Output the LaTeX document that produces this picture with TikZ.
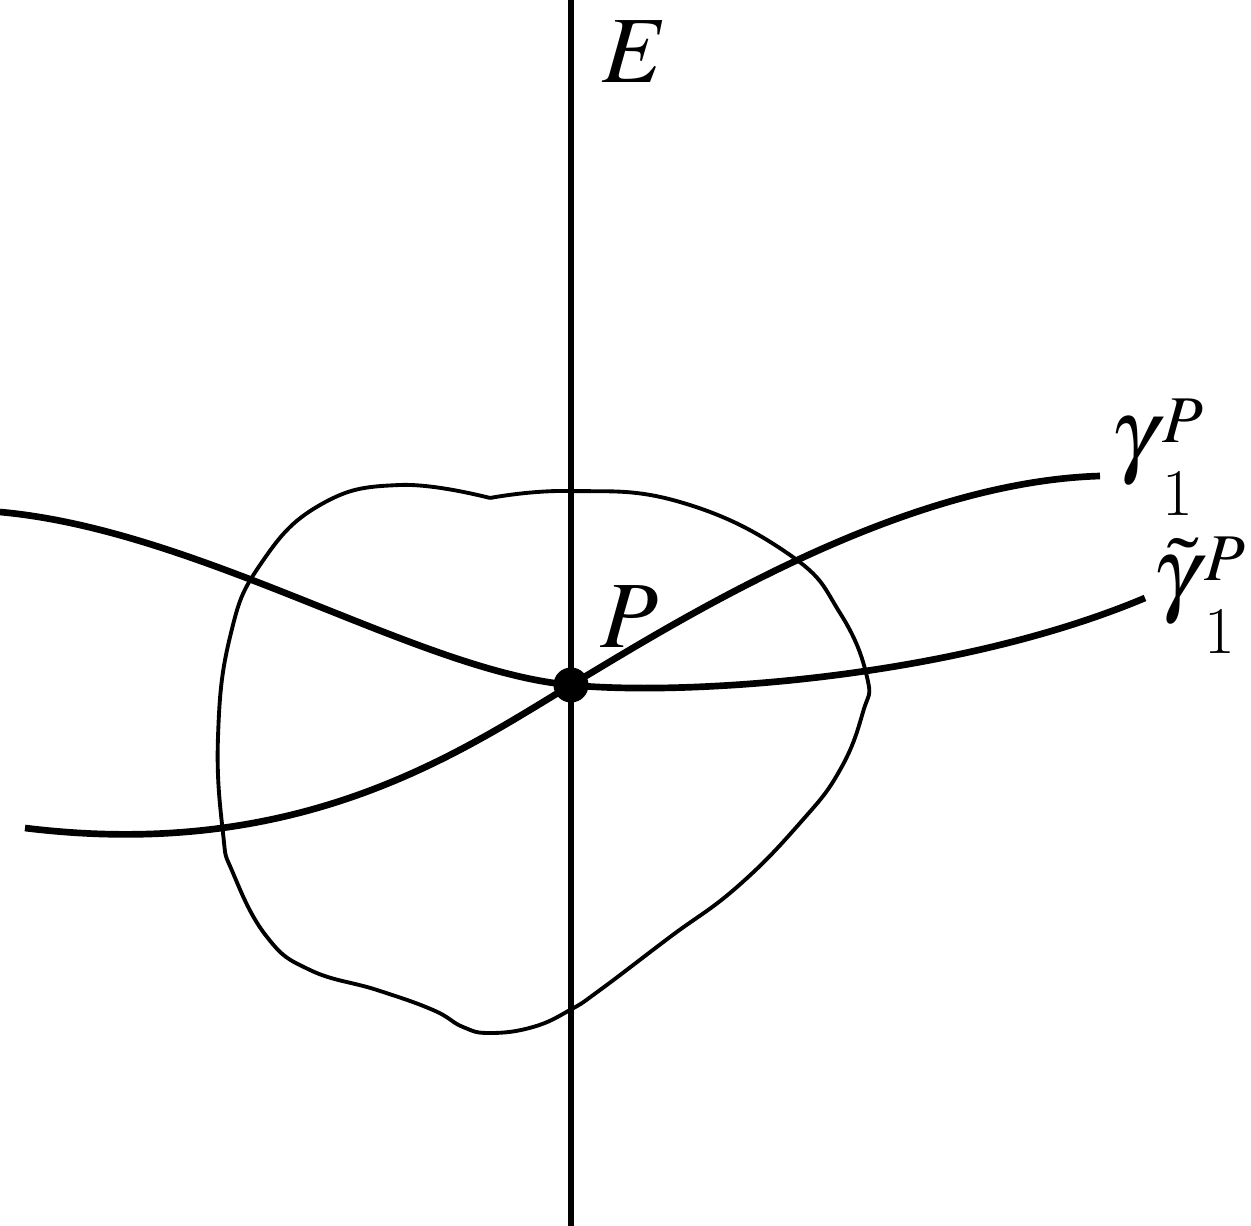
\documentclass[tikz,border=0pt]{standalone}
\usepackage{amsmath}
\usepackage{mathptmx}
\usepackage{tikz}
% name of a curve with a raised P and a lowered 1
\newcommand{\curvename}[1]{#1\kern0.05em\rlap{\raisebox{0.24em}{\fontsize{19}{22}\selectfont$P$}}\raisebox{-0.53em}{\fontsize{19}{22}\selectfont 1}}

\begin{document}
\begin{tikzpicture}[x=0.1mm,y=-0.1mm,
    every node/.style={inner sep=0pt,font=\fontsize{27}{32}\selectfont},
    thickline/.style={line width=1.9pt},
    thinline/.style={line width=1.1pt},
    pointdot/.style={circle,fill=black,minimum size=3.5mm}]
 	\useasboundingbox (0,0) rectangle (1251,1226);
 	\coordinate (Etop) at (571,0);
 	\coordinate (Ebot) at (571,1226);
 	\coordinate (P) at (571,685);

 	% the set E
 	\draw[thickline] (Etop) -- (Ebot);
 	\node[anchor=base] (Elabel) at (635,83) {$E$};

 	% the neighbourhood of P
 	\draw[thinline] plot[smooth,tension=0.75] coordinates {
 		(490,498) (570,491) (680,502) (790,555) (840,613) (867,677) (863,712)
 		(840,770) (800,823) (737,887) (670,937) (600,990) (570,1010) (533,1027)
 		(490,1033) (463,1027) (433,1010) (377,990) (310,970) (267,937) (233,873)
 		(223,833) (218,737) (230,637) (260,565) (320,505) (400,485) (490,498)};

 	% the curve gamma
 	\draw[thickline] (25,828) .. controls (300,862) and (460,752) .. (P)
 		.. controls (681,619) and (900,482) .. (1100,476);
 	% the curve gamma tilde
 	\draw[thickline] (0,512) .. controls (200,530) and (420,672) .. (P)
 		.. controls (680,696) and (950,680) .. (1145,598);

 	\node[pointdot] (Pdot) at (P) {};
 	\node[anchor=base] (Plabel) at (629,647) {$P$};
 	\node[anchor=base west] (gamma) at (1110,465) {\curvename{$\gamma$}};
 	\node[anchor=base west] (gammatilde) at (1152,603) {\curvename{$\tilde{\gamma}$}};
\end{tikzpicture}
\end{document}
